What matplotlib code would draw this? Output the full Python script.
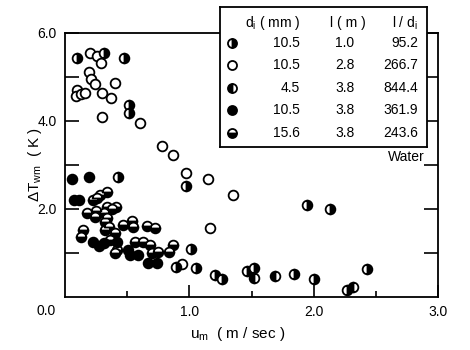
import numpy as np
import matplotlib
matplotlib.use('Agg')
import matplotlib.pyplot as plt
from matplotlib.ticker import FixedLocator, FuncFormatter

plt.rcParams['font.family'] = ['Liberation Sans', 'DejaVu Sans']
plt.rcParams['mathtext.fontset'] = 'custom'
plt.rcParams['mathtext.rm'] = 'Liberation Sans'
plt.rcParams['mathtext.it'] = 'Liberation Sans'

# Dados: u_m (m/s), dT_wm (K)
# d=10.5 mm, l=1.0 m (meio cheio à direita)
u1 = [0.10, 0.31, 0.475, 0.515, 0.515, 0.97, 0.43, 1.95, 2.13, 1.01, 1.05,
      1.21, 1.26, 1.46, 1.52, 1.84, 2.00, 2.27, 2.43, 0.89]
t1 = [5.43, 5.55, 5.43, 4.36, 4.18, 2.52, 2.73, 2.09, 2.00, 1.09, 0.66,
      0.50, 0.41, 0.59, 0.66, 0.52, 0.41, 0.16, 0.64, 0.68]
# d=10.5 mm, l=2.8 m (aberto)
u2 = [0.20, 0.26, 0.29, 0.19, 0.21, 0.24, 0.40, 0.10, 0.09, 0.13, 0.16,
      0.30, 0.37, 0.30, 0.60, 0.78, 0.87, 0.97, 1.15, 1.35, 1.17, 0.94]
t2 = [5.55, 5.48, 5.32, 5.11, 4.95, 4.84, 4.86, 4.70, 4.56, 4.62, 4.64,
      4.64, 4.52, 4.09, 3.95, 3.43, 3.23, 2.82, 2.68, 2.32, 1.57, 0.75]
# d=4.5 mm, l=3.8 m (meio cheio à esquerda)
u3 = [1.52, 1.69, 2.32]
t3 = [0.43, 0.48, 0.23]
# d=10.5 mm, l=3.8 m (cheio)
u4 = [0.06, 0.19, 0.07, 0.11, 0.225, 0.31, 0.42, 0.51, 0.52, 0.59, 0.67,
      0.74, 0.27]
t4 = [2.68, 2.73, 2.20, 2.20, 1.25, 1.23, 1.25, 1.07, 0.95, 0.95, 0.77,
      0.77, 1.15]
# d=15.6 mm, l=3.8 m (metade de baixo cheia)
u5 = [0.225, 0.28, 0.34, 0.18, 0.24, 0.31, 0.34, 0.41, 0.32, 0.145, 0.13,
      0.32, 0.40, 0.42, 0.40, 0.47, 0.54, 0.55, 0.56, 0.63, 0.66, 0.72,
      0.68, 0.70, 0.75, 0.84, 0.87, 0.26, 0.25, 0.38, 0.36, 0.34, 0.35]
t5 = [2.20, 2.32, 2.39, 1.91, 1.82, 1.91, 2.05, 2.05, 1.70, 1.52, 1.36,
      1.52, 1.45, 1.07, 1.00, 1.64, 1.73, 1.59, 1.25, 1.25, 1.61, 1.57,
      1.18, 1.00, 1.02, 1.02, 1.18, 2.25, 1.95, 2.00, 1.30, 1.80, 1.60]

linhas = [('10.5', '1.0', '95.2'), ('10.5', '2.8', '266.7'), ('4.5', '3.8', '844.4'),
          ('10.5', '3.8', '361.9'), ('15.6', '3.8', '243.6')]

estilos = [dict(fillstyle='right', markerfacecolor='black', markerfacecoloralt='white'),
           dict(fillstyle='full', markerfacecolor='white'),
           dict(fillstyle='left', markerfacecolor='black', markerfacecoloralt='white'),
           dict(fillstyle='full', markerfacecolor='black'),
           dict(fillstyle='bottom', markerfacecolor='black', markerfacecoloralt='white')]

W, H = 470, 350
fig = plt.figure(figsize=(4.7, 3.5), dpi=100)
ax = fig.add_axes([65/W, 1 - 297/H, (438-65)/W, (297-33)/H])

for u, t, st in zip([u2, u5, u4, u1, u3], [t2, t5, t4, t1, t3],
                    [estilos[1], estilos[4], estilos[3], estilos[0], estilos[2]]):
    ax.plot(u, t, 'o', ls='none', ms=7, mec='black', mew=1.3, clip_on=False, **st)

ax.set_xlim(0, 3.0)
ax.set_ylim(0, 6.0)
ax.xaxis.set_major_locator(FixedLocator([1.0, 2.0, 3.0]))
ax.xaxis.set_minor_locator(FixedLocator([0.5, 1.5, 2.5]))
ax.yaxis.set_major_locator(FixedLocator([1, 2, 3, 4, 5, 6]))
ax.yaxis.set_major_formatter(FuncFormatter(lambda v, p: '%.1f' % v if v % 2 == 0 else ''))
ax.xaxis.set_major_formatter(FuncFormatter(lambda v, p: '%.1f' % v))
ax.tick_params(axis='x', which='major', direction='in', length=9, width=1.2,
               labelsize=10, pad=6)
ax.tick_params(axis='x', which='minor', direction='in', length=4.5, width=1.2)
ax.tick_params(axis='y', which='major', direction='in', length=10, width=1.2,
               labelsize=10, pad=6, right=True)
for s in ax.spines.values():
    s.set_linewidth(1.3)

fig.text(46/W, 1 - 311/H, '0.0', fontsize=10, ha='center', va='center')
fig.text(35/W, 1 - 165/H, r'$\Delta$T$_{\rm wm}$  ( K )', fontsize=11,
         rotation=90, ha='center', va='center')
fig.text(238/W, 1 - 334/H, r'u$_{\rm m}$  ( m / sec )', fontsize=11,
         ha='center', va='center')
fig.text(425/W, 1 - 157/H, 'Water', fontsize=10, ha='right', va='center')

# Quadro da legenda em coordenadas de pixel
lg = fig.add_axes([220/W, 1 - 147/H, (427-220)/W, (147-7)/H], zorder=5)
lg.set_xlim(220, 427)
lg.set_ylim(147, 7)
lg.set_xticks([])
lg.set_yticks([])
for s in lg.spines.values():
    s.set_linewidth(1.3)

lg.text(300, 23, r'd$_{\rm i}$ ( mm )', fontsize=10, ha='right', va='center')
lg.text(348, 23, 'l ( m )', fontsize=10, ha='center', va='center')
lg.text(418, 23, r'l / d$_{\rm i}$', fontsize=10, ha='right', va='center')
ys = [43, 65, 88, 110, 133]
for y, st, (d, l, r) in zip(ys, estilos, linhas):
    lg.plot([232], [y], 'o', ms=6.5, mec='black', mew=1.3, **st)
    lg.text(300, y, d, fontsize=10, ha='right', va='center')
    lg.text(345, y, l, fontsize=10, ha='center', va='center')
    lg.text(418, y, r, fontsize=10, ha='right', va='center')

fig.savefig('out.png', dpi=100)
